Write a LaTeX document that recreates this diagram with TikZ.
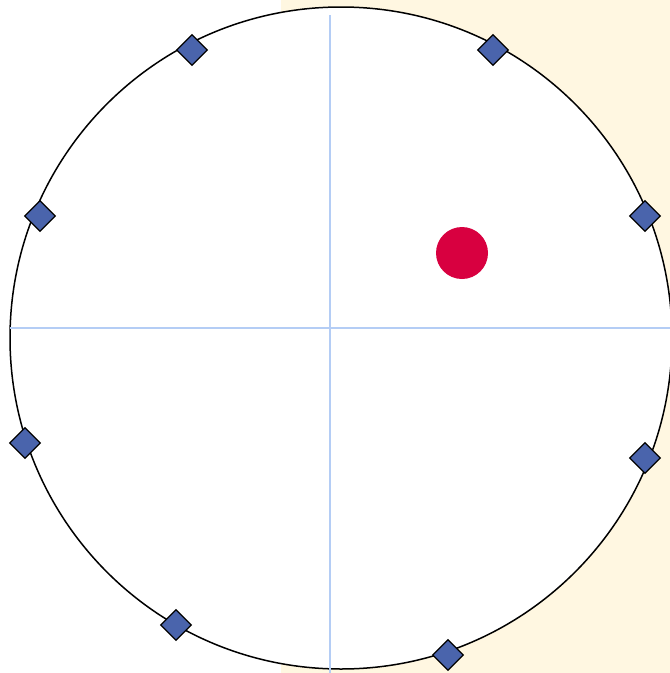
\documentclass[tikz,border=0pt]{standalone}
\usetikzlibrary{shapes.geometric}
\definecolor{cream}{HTML}{FFF7E1}
\definecolor{axisblue}{HTML}{B4CDF5}
\definecolor{dblue}{HTML}{4A64AC}
\definecolor{dotred}{HTML}{D80040}
\tikzset{
  marker/.style={diamond, draw=black, line width=1.3pt, fill=dblue, inner sep=0pt, minimum width=31pt, minimum height=31pt},
  axisline/.style={draw=axisblue, line width=1.4pt},
  ring/.style={draw=black, line width=1.5pt, fill=white}
}
\begin{document}
\begin{tikzpicture}[x=1pt,y=-1pt]
\useasboundingbox (0,0) rectangle (670,673);
\fill[cream] (281,0) rectangle (670,673);
\draw[ring] (341,338) circle (331);
\coordinate (vtop) at (330,15);
\coordinate (vbot) at (330,673);
\coordinate (hl) at (10,328);
\coordinate (hr) at (670,328);
\draw[axisline] (vtop) -- (vbot);
\draw[axisline] (hl) -- (hr);
\node[circle, fill=dotred, inner sep=0pt, minimum size=52pt] (dot) at (462,253) {};
\node[marker] (m1) at (192,50) {};
\node[marker] (m2) at (493,50) {};
\node[marker] (m3) at (40,216) {};
\node[marker] (m4) at (645,216) {};
\node[marker] (m5) at (25,443) {};
\node[marker] (m6) at (645,458) {};
\node[marker] (m7) at (176,625) {};
\node[marker] (m8) at (448,655) {};
\end{tikzpicture}
\end{document}
